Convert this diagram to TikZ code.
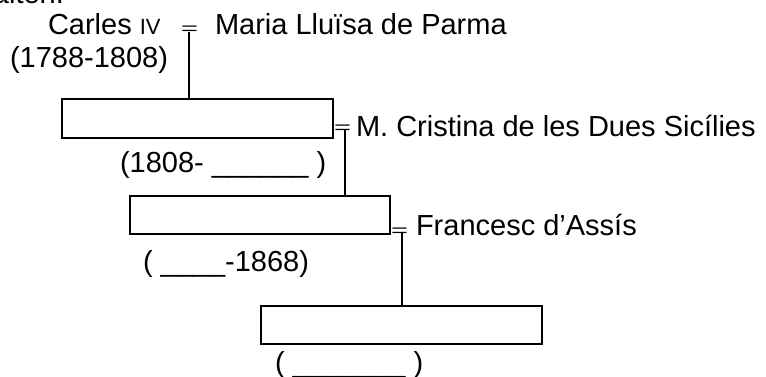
\documentclass[tikz,border=0pt]{standalone}
\usepackage{fontspec}
\setmainfont{Liberation Sans}
\begin{document}
\begin{tikzpicture}[x=1pt,y=-1pt,
  txt/.style={anchor=base west,inner sep=0pt,outer sep=0pt,font=\fontsize{29}{33}\selectfont},
  eqs/.style={anchor=base west,inner sep=0pt,outer sep=0pt,font=\fontsize{29}{33}\selectfont},
  pbox/.style={draw,line width=1.6pt,inner sep=0pt,outer sep=0pt},
  link/.style={line width=1.6pt}]
\useasboundingbox (0,0) rectangle (766,377);
\begin{scope}
\clip (0,0) rectangle (766,377);
\node[txt] (top) at (-7,4) {aiten.};
\end{scope}
% first generation
\node[txt] (carles) at (48,35) {Carles {\fontsize{22}{22}\selectfont IV}};
\node[eqs] (eq1) at (181,35) {\scalebox{1}[0.6]{=}};
\node[txt] (maria) at (215,35) {Maria Lluïsa de Parma};
\node[txt] (d1) at (10,68) {(1788-1808)};
% boxes
\node[pbox,minimum width=271pt,minimum height=39pt] (b1) at (197.5,118.5) {};
\node[pbox,minimum width=260pt,minimum height=38pt] (b2) at (260,215) {};
\node[pbox,minimum width=281pt,minimum height=38pt] (b3) at (401.5,325) {};
% second generation
\node[eqs] (eq2) at (334,134) {\scalebox{1}[0.6]{=}};
\node[txt] (cristina) at (356,137) {M. Cristina de les Dues Sicílies};
\node[txt] (d2) at (120,173) {(1808- \_\_\_\_\_\_ )};
% third generation
\node[eqs] (eq3) at (391,236) {\scalebox{1}[0.6]{=}};
\node[txt] (francesc) at (416,235) {Francesc d’Assís};
\node[txt] (d3) at (143,271) {( \_\_\_\_-1868)};
% fourth
\node[txt] (d4) at (275,372) {( \_\_\_\_\_\_\_ )};
% connectors
\coordinate (j1) at (189,32);
\coordinate (j2) at (345,130);
\coordinate (j3) at (402,232);
\draw[link] (j1) -- (j1 |- b1.north);
\draw[link] (j2) -- (j2 |- b2.north);
\draw[link] (j3) -- (j3 |- b3.north);
\end{tikzpicture}
\end{document}
